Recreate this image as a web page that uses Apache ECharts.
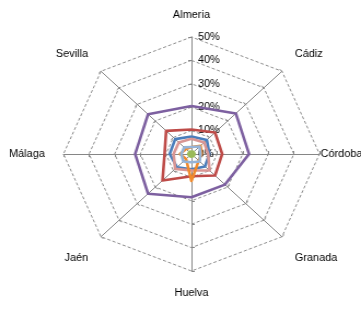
<!DOCTYPE html>
<html>
<head>
<meta charset="utf-8">
<script src="https://cdn.jsdelivr.net/npm/echarts@6/dist/echarts.min.js"></script>
<style>
  html, body { margin: 0; padding: 0; background: #fff; overflow: hidden; }
  #radar { width: 330px; height: 312px; transform: scaleX(1.094); transform-origin: 0 0; }
</style>
</head>
<body>
<div id="radar"></div>
<script>
// provinces, clockwise from top (as in the original chart)
var provinces = ['Almeria', 'Cádiz', 'Córdoba', 'Granada', 'Huelva', 'Jaén', 'Málaga', 'Sevilla'];
var upperDiag = ['Cádiz', 'Sevilla'];
var lowerDiag = ['Granada', 'Jaén'];
var tickMax = 50;

var purpleVals = [20.5, 24.5, 22.5, 18.5, 18.5, 24, 22, 24];
var redVals = [10.5, 13, 12, 13, 9.5, 16, 10.5, 14];
var blueVals = [7.5, 8.5, 7, 7.5, 6.5, 8, 8.5, 9];
var pinkVals = [6.5, 7, 6.5, 10, 7, 9, 7, 7];
var orangeVals = [3, 5, 4, 4, 11.5, 3, 4.5, 3];
var lightBlueVals = [3, 4.5, 3.5, 4.5, 3.5, 4.5, 4, 4];
var greenVals = [1.2, 1.2, 1.2, 1.2, 1.2, 1.2, 1.2, 1.2];

// echarts lays indicators out counter-clockwise, so walk the list backwards
var order = [0, 7, 6, 5, 4, 3, 2, 1];
function pick(arr) { return order.map(function (i) { return arr[i]; }); }

var chart = echarts.init(document.getElementById('radar'), null, {renderer: 'canvas'});

var indicators = pick(provinces).map(function (p, i) {
    var ind = {name: p, min: 0, max: tickMax};
    if (i == 0) {
        ind.axisLabel = {show: true, formatter: '{value}%', color: '#000', fontSize: 10,
            margin: -6, align: 'left', fontFamily: 'Liberation Sans'};
    }
    return ind;
});

function line(vals, color) {
    return {value: pick(vals), symbol: 'none', lineStyle: {color: color, width: 2.6}, itemStyle: {color: color}};
}

var green = line(greenVals, '#9BBB59');
green.areaStyle = {color: '#9BBB59', opacity: 1};

var txt = {fontSize: 10, color: '#000', fontFamily: 'Liberation Sans'};

chart.setOption({
    animation: false,
    radar: {
        center: [175, 154],
        radius: 117,
        startAngle: 90,
        shape: 'polygon',
        splitNumber: 5,
        nameGap: 1,
        axisName: {
            color: '#000', fontSize: 10, fontFamily: 'Liberation Sans',
            formatter: function (n) {
                if (n == 'Córdoba') return '{c|' + n + '}';
                if (upperDiag.indexOf(n) >= 0) return '{u|' + n + '}';
                if (lowerDiag.indexOf(n) >= 0) return '{l|' + n + '}';
                return '{o|' + n + '}';
            },
            rich: {
                o: Object.assign({padding: [16, 16, 16, 16]}, txt),
                u: Object.assign({padding: [0, 11, 32, 11]}, txt),
                l: Object.assign({padding: [42, 11, 0, 11]}, txt),
                c: Object.assign({padding: 0}, txt)
            }
        },
        axisLine: {lineStyle: {color: '#868686', width: 1}},
        axisTick: {show: true, length: 3, lineStyle: {color: '#868686'}},
        axisLabel: {show: false},
        splitLine: {lineStyle: {color: '#8c8c8c', type: [3, 2], width: 1}},
        splitArea: {show: false},
        indicator: indicators
    },
    series: [{
        type: 'radar',
        data: [
            line(purpleVals, '#7D60A0'),
            line(redVals, '#BE4B48'),
            line(blueVals, '#4A7EBB'),
            line(pinkVals, '#D99694'),
            line(orangeVals, '#F08A2C'),
            line(lightBlueVals, '#95B3D7'),
            green
        ]
    }]
});
</script>
</body>
</html>
